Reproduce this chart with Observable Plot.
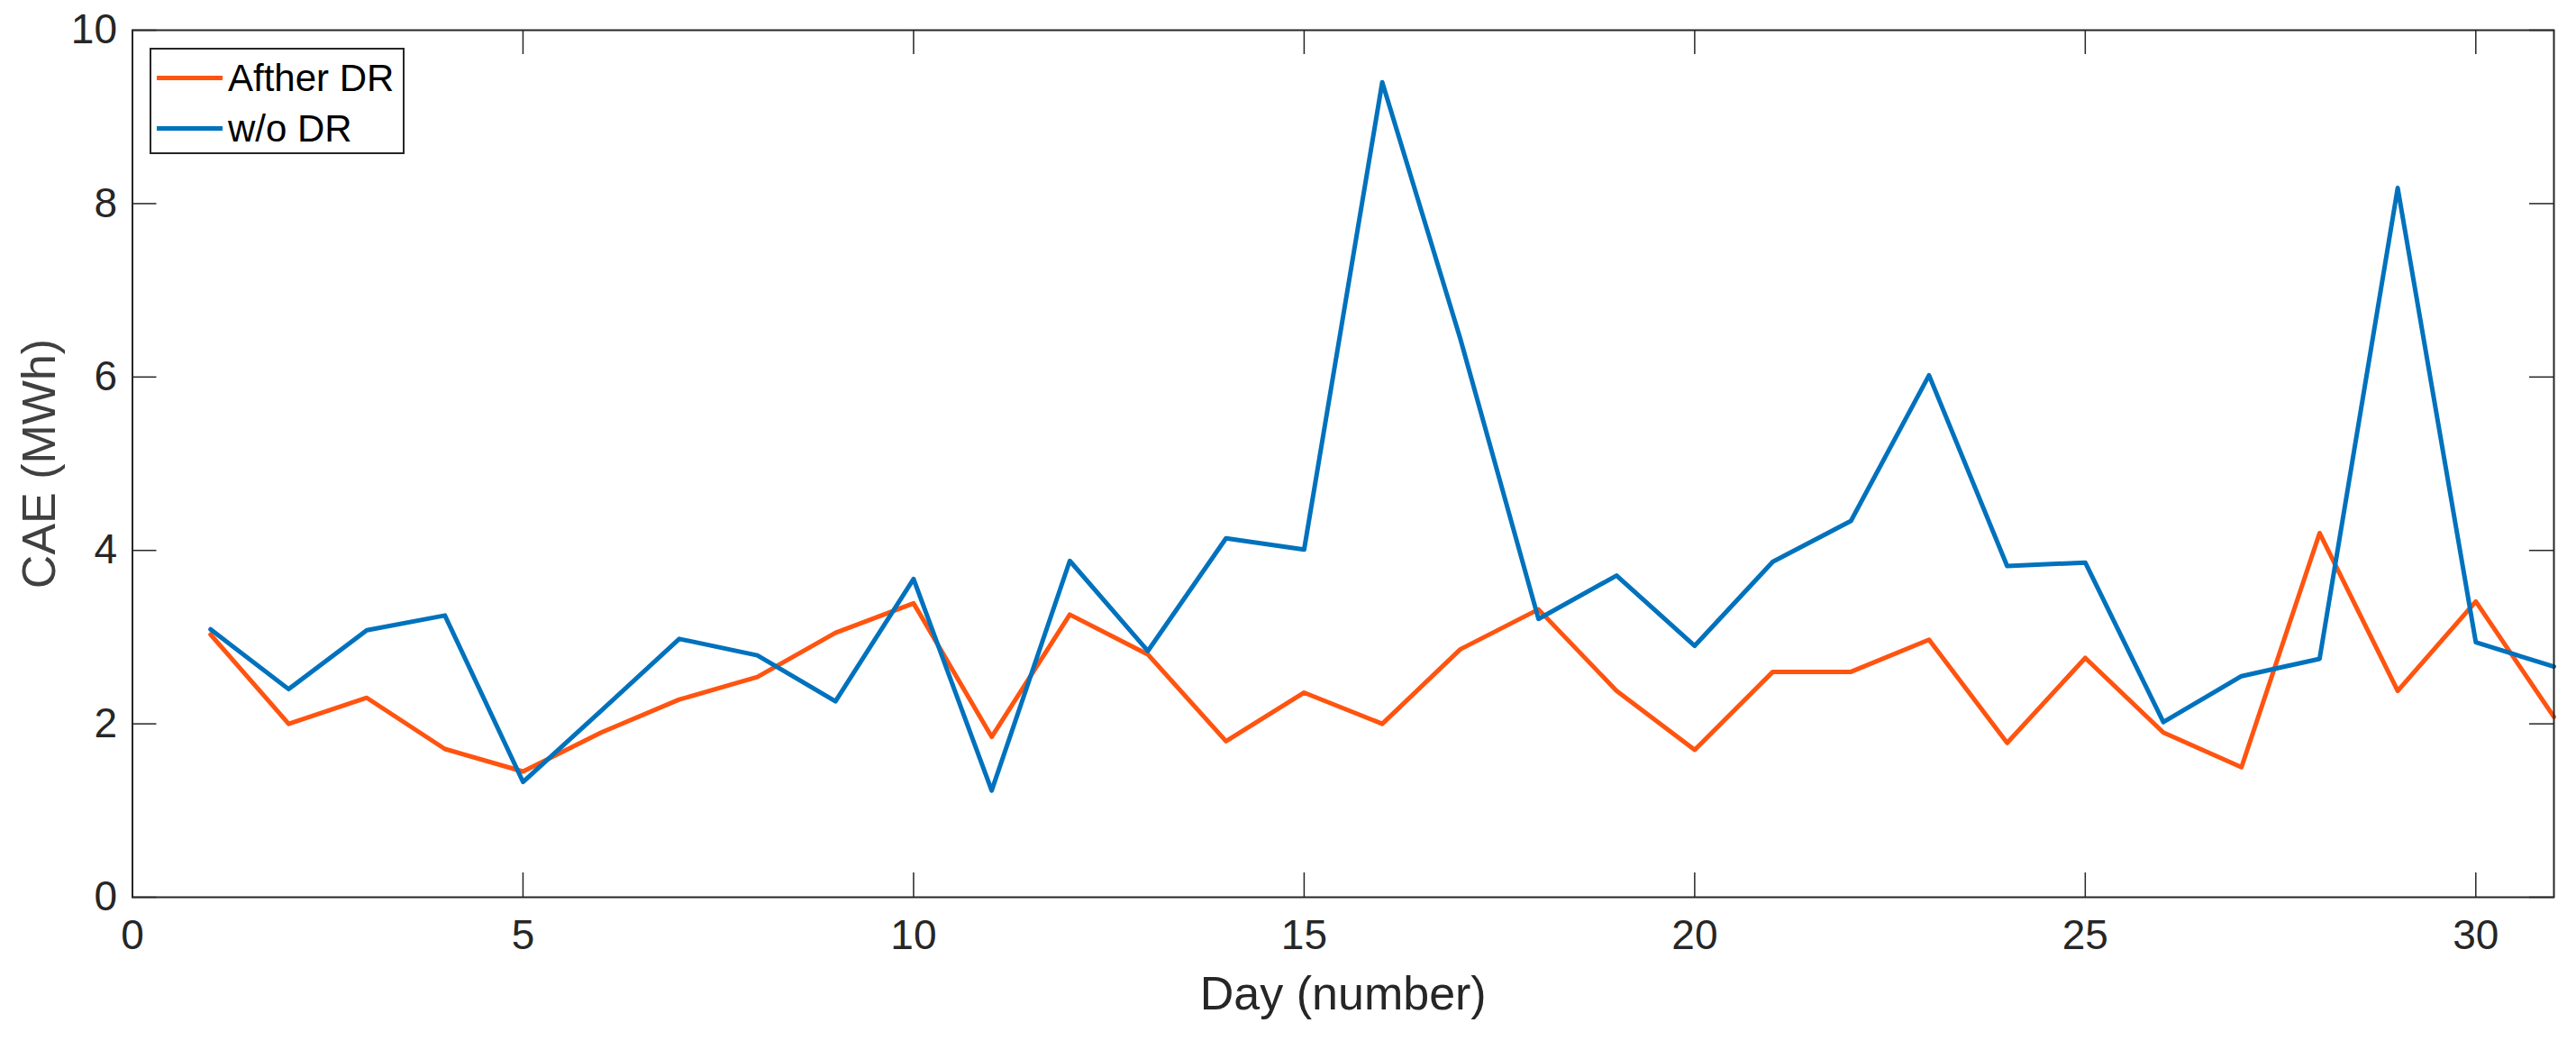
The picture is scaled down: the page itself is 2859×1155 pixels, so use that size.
<!DOCTYPE html>
<html>
<head>
<meta charset="utf-8">
<script src="https://cdn.jsdelivr.net/npm/d3@7"></script>
<script src="https://cdn.jsdelivr.net/npm/@observablehq/plot@0.6"></script>
<style>
  html, body { margin: 0; padding: 0; background: #ffffff; }
  #wrap { position: relative; width: 2859px; height: 1155px; font-family: "Liberation Sans", Arial, sans-serif; }
  #legend {
    position: absolute; left: 166px; top: 53px; width: 283px; height: 118px;
    box-sizing: border-box; border: 2px solid #262626; background: #ffffff;
  }
  .swatch { position: absolute; left: 6px; width: 73px; height: 5px; }
  .lbl { position: absolute; left: 85px; font-size: 42px; color: #000; white-space: nowrap; line-height: 1; }
</style>
</head>
<body>
<div id="wrap"></div>
<script>
// ---- data ----
const days = [1,2,3,4,5,6,7,8,9,10,11,12,13,14,15,16,17,18,19,20,21,22,23,24,25,26,27,28,29,30,31];
const afterDR = [3.03,2.00,2.30,1.71,1.45,1.90,2.28,2.54,3.05,3.39,1.85,3.26,2.80,1.80,2.36,2.00,2.86,3.32,2.38,1.70,2.60,2.60,2.97,1.78,2.76,1.90,1.50,4.20,2.38,3.41,2.08];
const woDR    = [3.09,2.40,3.08,3.25,1.33,2.15,2.98,2.79,2.26,3.67,1.23,3.88,2.84,4.14,4.01,9.40,6.44,3.21,3.71,2.90,3.87,4.34,6.02,3.82,3.86,2.02,2.55,2.75,8.18,2.94,2.66];
const seriesNames = ["Afther DR", "w/o DR"];
const seriesColors = ["#FF5410", "#0072BD"];
const xTicks = [0,5,10,15,20,25,30];
const yTicks = [0,2,4,6,8,10];
const xLabel = "Day (number)";
const yLabel = "CAE (MWh)";

const rowsAfter = days.map((d, i) => ({day: d, value: afterDR[i]}));
const rowsWo = days.map((d, i) => ({day: d, value: woDR[i]}));

const W = 2859, H = 1155;
const mL = 146.5, mR = 25, mT = 33, mB = 160;
const plotW = W - mL - mR, plotH = H - mT - mB;
const tickLen = 27;
const axisColor = "#262626";
const fmt = d => String(d);

const chart = Plot.plot({
  width: W, height: H,
  marginLeft: mL, marginRight: mR, marginTop: mT, marginBottom: mB,
  style: {fontFamily: "'Liberation Sans', Arial, sans-serif", fontSize: "46px", background: "#ffffff", color: "#262626", overflow: "visible"},
  x: {domain: [0, 31], ticks: xTicks, tickFormat: fmt, label: null},
  y: {domain: [0, 10], ticks: yTicks, tickFormat: fmt, label: null},
  marks: [
    // inward ticks on all four sides
    Plot.tickX(xTicks, {x: d => d, insetTop: plotH - tickLen, stroke: axisColor, strokeWidth: 1.5}),
    Plot.tickX(xTicks, {x: d => d, insetBottom: plotH - tickLen, stroke: axisColor, strokeWidth: 1.5}),
    Plot.tickY(yTicks, {y: d => d, insetRight: plotW - tickLen, stroke: axisColor, strokeWidth: 1.5}),
    Plot.tickY(yTicks, {y: d => d, insetLeft: plotW - tickLen, stroke: axisColor, strokeWidth: 1.5}),
    // tick labels
    Plot.axisX(xTicks, {anchor: "bottom", tickSize: 0, tickPadding: 25, tickFormat: fmt, fontSize: 46, fill: axisColor, label: null}),
    Plot.axisY(yTicks, {anchor: "left", tickSize: 0, tickPadding: 17, tickFormat: fmt, fontSize: 46, fill: axisColor, label: null}),
    // data lines
    Plot.line(rowsAfter, {x: "day", y: "value", stroke: seriesColors[0], strokeWidth: 5}),
    Plot.line(rowsWo, {x: "day", y: "value", stroke: seriesColors[1], strokeWidth: 5}),
    // box
    Plot.frame({stroke: axisColor, strokeWidth: 2}),
    // axis titles
    Plot.text([xLabel], {frameAnchor: "bottom", textAnchor: "middle", lineAnchor: "middle", dy: 108, fontSize: 52, fill: axisColor}),
    Plot.text([yLabel], {frameAnchor: "left", textAnchor: "middle", lineAnchor: "middle", dx: -103, rotate: -90, fontSize: 52, fill: "#404040"})
  ]
});

const wrap = document.getElementById("wrap");
wrap.appendChild(chart);

// legend overlay (inside the axes, upper left, as in the original)
const legend = document.createElement("div");
legend.id = "legend";
seriesNames.forEach((name, i) => {
  const cy = i === 0 ? 31 : 87;
  const sw = document.createElement("div");
  sw.className = "swatch";
  sw.style.top = (cy - 2.5) + "px";
  sw.style.background = seriesColors[i];
  legend.appendChild(sw);
  const lb = document.createElement("div");
  lb.className = "lbl";
  lb.style.top = (cy - 20) + "px";
  lb.textContent = name;
  legend.appendChild(lb);
});
wrap.appendChild(legend);
</script>
</body>
</html>
